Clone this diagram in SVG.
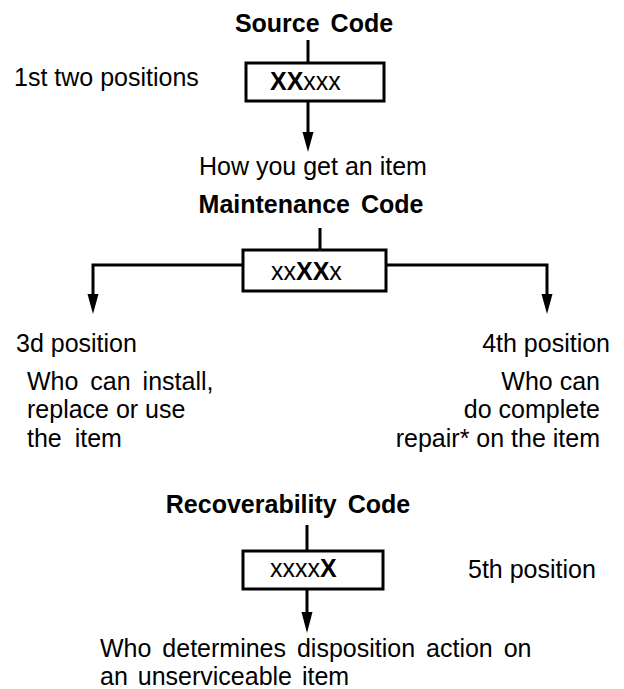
<svg xmlns="http://www.w3.org/2000/svg" width="624" height="689" viewBox="0 0 624 689">
<style>
text{font-family:"Liberation Sans",Arial,sans-serif;font-size:25px;fill:#000}
.t{font-weight:bold;word-spacing:4px}
.b{font-weight:bold}
.box{fill:#fff;stroke:#000;stroke-width:3}
.ln{fill:none;stroke:#000;stroke-width:3}
.ah{fill:#000}
</style>
<g id="connectors">
<path class="ln" d="M308,40 V63"/>
<path class="ln" d="M308,101 V133"/>
<polygon class="ah" points="302.5,132 313.5,132 308,152"/>
<path class="ln" d="M320,228 V250"/>
<path class="ln" d="M243,265 H93 V296"/>
<polygon class="ah" points="87.5,294 98.5,294 93,314"/>
<path class="ln" d="M386,265 H547 V296"/>
<polygon class="ah" points="541.5,294 552.5,294 547,314"/>
<path class="ln" d="M307,525 V551"/>
<path class="ln" d="M307,589 V614"/>
<polygon class="ah" points="301.5,612 312.5,612 307,633"/>
</g>
<g id="source">
<text class="t" x="314" y="32" text-anchor="middle">Source Code</text>
<rect class="box" x="246" y="63" width="138" height="38"/>
<text x="270" y="90"><tspan class="b">XX</tspan>xxx</text>
</g>
<g id="first-two"><text x="14" y="86">1st two positions</text></g>
<g id="how"><text x="199" y="175">How you get an item</text></g>
<g id="maintenance">
<text class="t" x="311" y="213" text-anchor="middle">Maintenance Code</text>
<rect class="box" x="243" y="250" width="143" height="41"/>
<text x="271" y="280">xx<tspan class="b">XX</tspan>x</text>
</g>
<g id="third">
<text x="16" y="352">3d position</text>
<text x="27" y="390" style="word-spacing:5px">Who can install,</text>
<text x="27" y="418">replace or use</text>
<text x="27" y="447" style="word-spacing:6px">the item</text>
</g>
<g id="fourth">
<text x="610" y="352" text-anchor="end">4th position</text>
<text x="600" y="390" text-anchor="end">Who can</text>
<text x="600" y="418" text-anchor="end">do complete</text>
<text x="600" y="447" text-anchor="end">repair* on the item</text>
</g>
<g id="recoverability">
<text class="t" x="288" y="513" text-anchor="middle">Recoverability Code</text>
<rect class="box" x="243" y="551" width="140" height="38"/>
<text x="270" y="577">xxxx<tspan class="b">X</tspan></text>
</g>
<g id="fifth"><text x="468" y="578">5th position</text></g>
<g id="who-determines">
<text x="100" y="657" style="word-spacing:4px">Who determines disposition action on</text>
<text x="100" y="685" style="word-spacing:3px">an unserviceable item</text>
</g>
</svg>
